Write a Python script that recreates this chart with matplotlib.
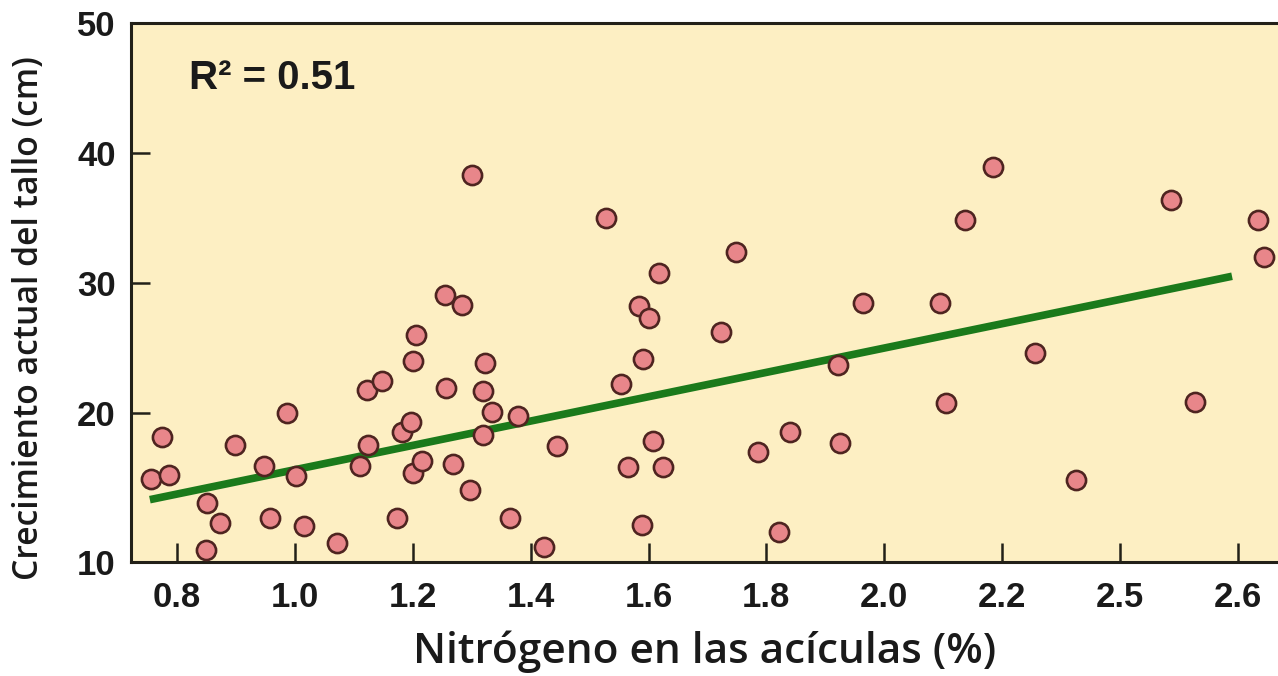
import matplotlib
matplotlib.use("Agg")
import matplotlib.pyplot as plt
import numpy as np

# Nitrogen in needles (%) vs. actual stem growth (cm)
nitrogen = [0.756, 0.774, 0.787, 0.851, 0.873, 0.850, 0.898, 0.948, 0.957, 0.986,
            1.002, 1.015, 1.071, 1.110, 1.124, 1.122, 1.147, 1.174, 1.181, 1.197,
            1.200, 1.215, 1.201, 1.206, 1.255, 1.284, 1.257, 1.268, 1.297, 1.322,
            1.319, 1.335, 1.320, 1.301, 1.365, 1.379, 1.422, 1.445, 1.528, 1.618,
            1.584, 1.600, 1.591, 1.553, 1.608, 1.566, 1.625, 1.589, 1.748, 1.723,
            1.786, 1.840, 1.822, 1.922, 1.925, 1.964, 2.094, 2.105, 2.137, 2.185,
            2.255, 2.326, 2.487, 2.527, 2.634, 2.644]
growth = [14.92, 18.15, 15.23, 13.02, 11.48, 9.46, 17.54, 15.88, 11.90, 19.98,
          15.12, 11.31, 9.98, 15.92, 17.54, 21.73, 22.42, 11.88, 18.48, 19.27,
          15.33, 16.31, 23.96, 26.00, 29.06, 28.28, 21.90, 16.05, 14.06, 23.79,
          21.64, 20.05, 18.25, 38.28, 11.85, 19.77, 9.69, 17.46, 34.95, 30.75,
          28.23, 27.28, 24.13, 22.21, 17.85, 15.85, 15.85, 11.38, 32.38, 26.18,
          16.95, 18.48, 10.79, 23.67, 17.67, 28.41, 28.41, 20.75, 34.82, 38.92,
          24.56, 14.82, 36.36, 20.79, 34.82, 31.95]

# regression line end points
fit_x = [0.754, 2.590]
fit_y = [13.3, 30.5]
r_squared = 0.51

x_ticks = [0.8, 1.0, 1.2, 1.4, 1.6, 1.8, 2.0, 2.2, 2.4, 2.6]
x_tick_labels = ["0.8", "1.0", "1.2", "1.4", "1.6", "1.8", "2.0", "2.2", "2.5", "2.6"]
y_ticks = [8.5, 20, 30, 40, 50]
y_tick_labels = ["10", "20", "30", "40", "50"]

bg = "#fdefc3"
ink = "#222018"
txt = "#1a1a1a"

fig = plt.figure(figsize=(12.78, 6.76), dpi=100)
ax = fig.add_axes([131 / 1278, 1 - 562 / 676, 1147 / 1278, 539 / 676])
ax.set_facecolor(bg)

ax.plot(fit_x, fit_y, color="#1b7a1b", lw=5.5, solid_capstyle="butt", zorder=2)
ax.scatter(nitrogen, growth, s=190, c="#e8868a", edgecolors="#4e2420",
           linewidths=1.9, zorder=3)

ax.set_xlim(0.722, 2.668)
ax.set_ylim(8.5, 50)

ax.set_xticks(x_ticks)
ax.set_xticklabels(x_tick_labels)
ax.set_yticks(y_ticks)
ax.set_yticklabels(y_tick_labels)
ax.tick_params(direction="in", length=14, width=1.8, color=ink,
               labelsize=25, labelcolor=txt)
ax.tick_params(axis="x", pad=14)
ax.tick_params(axis="y", pad=11)
for lab in ax.get_xticklabels() + ax.get_yticklabels():
    lab.set_fontfamily("Liberation Sans")
    lab.set_fontweight("bold")

for side in ["left", "bottom", "top"]:
    ax.spines[side].set_linewidth(2.2)
    ax.spines[side].set_color(ink)
ax.spines["right"].set_visible(False)

ax.text(0.051, 0.898, "R\u00b2 = %.2f" % r_squared, transform=ax.transAxes,
        fontsize=29, fontweight="bold", family="Liberation Sans",
        color=txt, ha="left", va="center")

ax.set_xlabel("Nitrógeno en las acículas (%)", family="Open Sans", fontsize=30.5,
              fontweight="semibold", color=txt, va="center")
ax.xaxis.set_label_coords(0.5, -0.167)
ax.set_ylabel("Crecimiento actual del tallo (cm)", family="Open Sans", fontsize=24.3,
              fontweight="semibold", color=txt, va="center")
ax.yaxis.set_label_coords(-0.089, 0.453)

fig.savefig("out.png", dpi=100, facecolor="white")
